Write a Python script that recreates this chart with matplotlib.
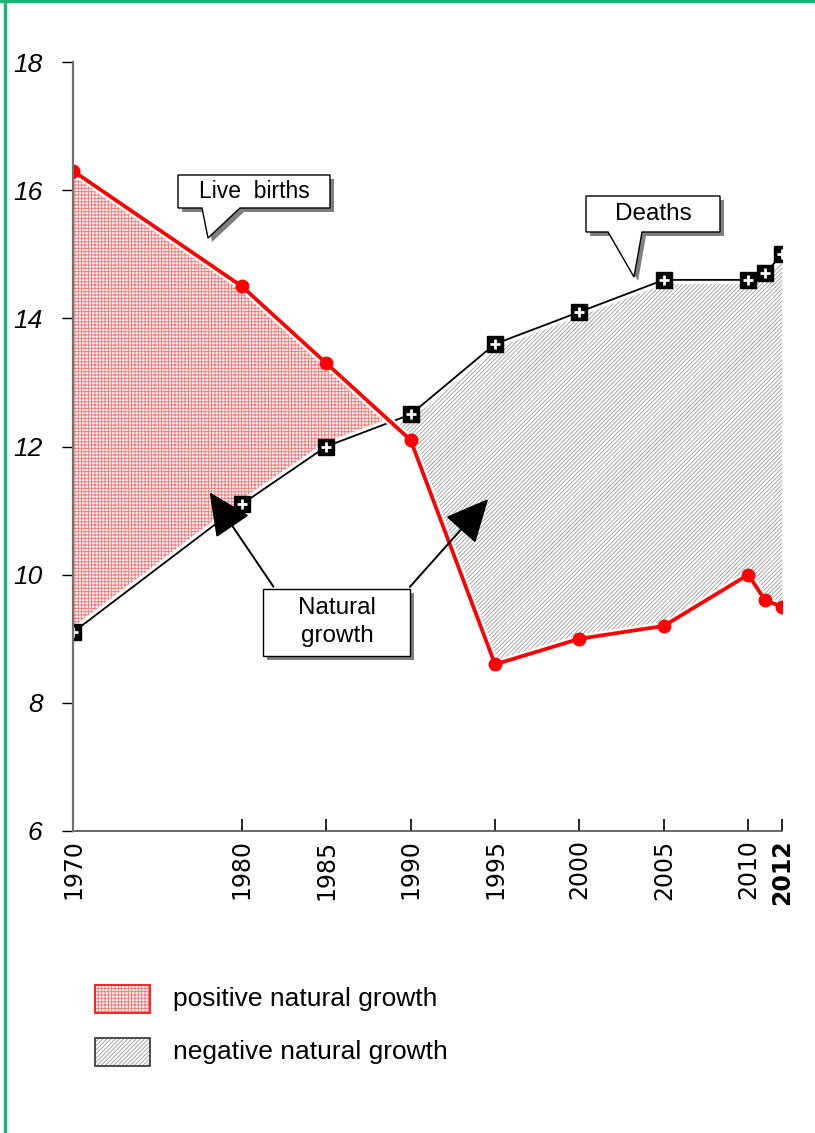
import numpy as np
import matplotlib
matplotlib.use("Agg")
import matplotlib.pyplot as plt
import matplotlib.patheffects as pe
from matplotlib.patches import Polygon, Rectangle, FancyArrowPatch

# =====================
# Data (per 1000 population)
# =====================
years = [1970, 1980, 1985, 1990, 1995, 2000, 2005, 2010, 2011, 2012]
births = [16.3, 14.5, 13.3, 12.1, 8.6, 9.0, 9.2, 10.0, 9.6, 9.5]
deaths = [9.1, 11.1, 12.0, 12.5, 13.6, 14.1, 14.6, 14.6, 14.7, 15.0]
tick_years = [1970, 1980, 1985, 1990, 1995, 2000, 2005, 2010, 2012]
y_ticks = [6, 8, 10, 12, 14, 16, 18]
legend_labels = ["positive natural growth", "negative natural growth"]

W, H = 815, 1133
plt.rcParams['font.family'] = ['Liberation Sans', 'DejaVu Sans']
plt.rcParams['hatch.linewidth'] = 0.7

fig = plt.figure(figsize=(W / 100, H / 100), dpi=100)


def fx(px):
    return px / W


def fy(py):
    return 1 - py / H


ax = fig.add_axes([fx(73), fy(831), fx(782) - fx(73), fy(62) - fy(831)])

b = np.array(births)
d = np.array(deaths)
x = np.array(years)

# =====================
# Filled areas
# =====================
pos_col = '#ff7878'
neg_col = '#a4a4a4'
ax.fill_between(x, d, b, where=b >= d, interpolate=True, facecolor='white',
                edgecolor=pos_col, hatch='+++++', linewidth=0, zorder=1)
ax.fill_between(x, d, b, where=b <= d, interpolate=True, facecolor='white',
                edgecolor=neg_col, hatch='////////', linewidth=0, zorder=1)

halo = [pe.Stroke(linewidth=6, foreground='white'), pe.Normal()]
ax.plot(x, d, color='black', lw=1.3, zorder=3, path_effects=halo)
ax.plot(x, d, 's', color='black', ms=11, zorder=4)
ax.plot(x, d, '+', color='white', ms=7, mew=2, zorder=5)
ax.plot(x, b, color='#ff0000', lw=2.7, zorder=6,
        path_effects=[pe.Stroke(linewidth=6, foreground='white'), pe.Normal()])
ax.plot(x, b, 'o', color='#ff0000', ms=9, zorder=7)

# =====================
# Axes styling
# =====================
ax.set_xlim(1970, 2012)
ax.set_ylim(6, 18)
for s in ['top', 'right']:
    ax.spines[s].set_visible(False)
ax.spines['left'].set_color('#707070')
ax.spines['left'].set_linewidth(1.6)
ax.spines['bottom'].set_color('#505050')
ax.spines['bottom'].set_linewidth(1.2)
ax.spines['left'].set_zorder(8)

ax.set_yticks(y_ticks)
ax.set_yticklabels([str(v) for v in y_ticks], fontstyle='italic', fontsize=19)
ax.tick_params(axis='y', direction='out', length=8, width=1, color='black', pad=14)

ax.set_xticks(tick_years)
ax.set_xticklabels([str(v) for v in tick_years], rotation=90, fontsize=17,
                   family=['DejaVu Sans'])
ax.get_xticklabels()[-1].set_fontweight('bold')
ax.tick_params(axis='x', direction='in', length=9, width=1.2, color='black', pad=6)


# =====================
# Callouts (drawn in figure pixel space)
# =====================
def callout(pts, text, tx, ty, size=17.5, shadow=4):
    sh = [(px + shadow, py + shadow) for px, py in pts]
    fig.patches.append(Polygon([(fx(a), fy(c)) for a, c in sh], closed=True,
                               transform=fig.transFigure, facecolor='#7f7f7f',
                               edgecolor='none', zorder=10))
    fig.patches.append(Polygon([(fx(a), fy(c)) for a, c in pts], closed=True,
                               transform=fig.transFigure, facecolor='white',
                               edgecolor='black', lw=1, zorder=11))
    fig.text(fx(tx), fy(ty), text, ha='center', va='center', fontsize=size,
             zorder=12, linespacing=1.35)


callout([(178, 175), (330, 175), (330, 208), (240, 208), (208, 238),
         (202, 208), (178, 208)], "Live  births", 254, 191, size=16.5)
callout([(586, 196), (720, 196), (720, 232), (642, 232), (634, 277),
         (608, 232), (586, 232)], "Deaths", 653, 214)
callout([(263, 589), (410, 589), (410, 656), (263, 656)], "Natural\ngrowth", 337, 622)

for start, end in [((275, 589), (208, 490)), ((408, 589), (490, 497))]:
    arr = FancyArrowPatch((fx(start[0]), fy(start[1])), (fx(end[0]), fy(end[1])),
                          transform=fig.transFigure,
                          arrowstyle='-|>,head_length=1.7,head_width=0.8',
                          mutation_scale=16, color='black', lw=1.4, zorder=9)
    fig.patches.append(arr)

# =====================
# Legend
# =====================
fig.patches.append(Rectangle((fx(95), fy(1013)), fx(150) - fx(95), fy(985) - fy(1013),
                             transform=fig.transFigure, facecolor='white',
                             edgecolor=pos_col, hatch='+++++', lw=0))
fig.patches.append(Rectangle((fx(95), fy(1013)), fx(150) - fx(95), fy(985) - fy(1013),
                             transform=fig.transFigure, facecolor='none',
                             edgecolor='#ff2020', lw=1.4))
fig.patches.append(Rectangle((fx(95), fy(1066)), fx(150) - fx(95), fy(1038) - fy(1066),
                             transform=fig.transFigure, facecolor='white',
                             edgecolor=neg_col, hatch='////////', lw=0))
fig.patches.append(Rectangle((fx(95), fy(1066)), fx(150) - fx(95), fy(1038) - fy(1066),
                             transform=fig.transFigure, facecolor='none',
                             edgecolor='#303030', lw=1.2))
fig.text(fx(173), fy(999), legend_labels[0], fontsize=19, va='center')
fig.text(fx(173), fy(1052), legend_labels[1], fontsize=19, va='center')

# green frame
fig.add_artist(plt.Line2D([fx(4.5), fx(4.5)], [0, 1], transform=fig.transFigure,
                          color='#1db47a', lw=2.5))
fig.add_artist(plt.Line2D([0, 1], [fy(1), fy(1)], transform=fig.transFigure,
                          color='#1db47a', lw=2.5))

fig.savefig("out.png", dpi=100)
